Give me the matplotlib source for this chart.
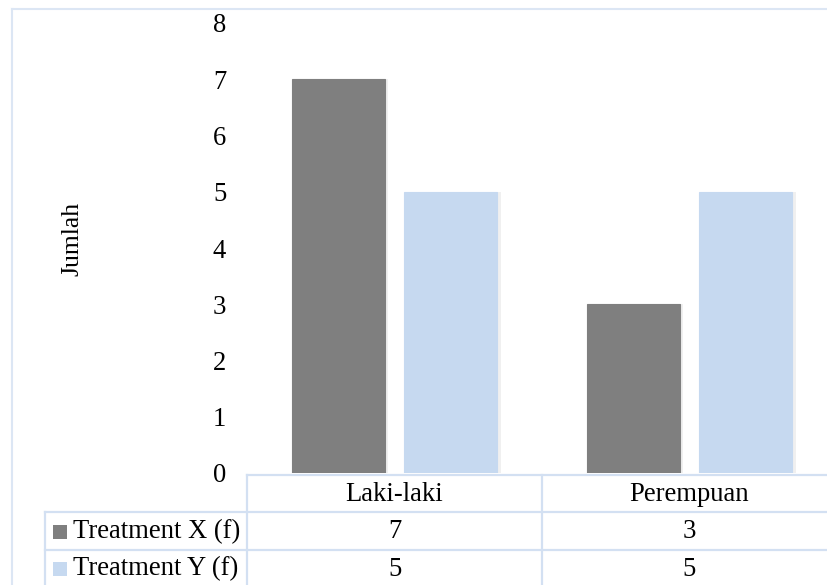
import matplotlib
matplotlib.use("Agg")
import matplotlib.pyplot as plt
from matplotlib.transforms import Affine2D, blended_transform_factory
from matplotlib.patches import Rectangle
from matplotlib.lines import Line2D

categories = ["Laki-laki", "Perempuan"]
series_names = ["Treatment X (f)", "Treatment Y (f)"]
treatment_x = [7, 3]
treatment_y = [5, 5]
y_ticks = [0, 1, 2, 3, 4, 5, 6, 7, 8]
y_label = "Jumlah"

colors = ["#7F7F7F", "#C6D9F0"]
line_c = "#D3E0F2"
border_c = "#DCE6F4"

W, H = 827, 585
plt.rcParams["font.family"] = ["Liberation Serif", "DejaVu Serif"]
FS = 19.2

fig = plt.figure(figsize=(W / 100, H / 100), dpi=100)
px = Affine2D().scale(1 / W, -1 / H).translate(0, 1) + fig.transFigure

# outer chart border
fig.add_artist(Line2D([12, 12], [9, 600], transform=px, color=border_c, lw=1.5))
fig.add_artist(Line2D([12, 840], [9, 9], transform=px, color=border_c, lw=1.5))

x0, x1 = 247, 837
y0, y1 = 473, 23
ax = fig.add_axes([x0 / W, (H - y0) / H, (x1 - x0) / W, (y0 - y1) / H])
ax.set_xlim(-0.5, len(categories) - 0.5)
ax.set_ylim(y_ticks[0], y_ticks[-1])

xs = list(range(len(categories)))
bw = 0.315
off = 0.19
for vals, c, sgn in [(treatment_x, colors[0], -1), (treatment_y, colors[1], 1)]:
    # soft shadow
    ax.bar([x + sgn * off + 0.012 for x in xs], vals, width=bw, color="#000000",
           alpha=0.06, zorder=1)
    ax.bar([x + sgn * off for x in xs], vals, width=bw, color=c, zorder=2,
           edgecolor=c, linewidth=0.8)

ax.set_yticks(y_ticks)
ax.set_yticklabels([str(t) for t in y_ticks], fontsize=FS)
ax.set_xticks([])
ax.tick_params(axis="y", length=0, pad=15)
for s in ax.spines.values():
    s.set_visible(False)
fig.text(72 / W, 1 - 239 / H, y_label, rotation=90, fontsize=FS * 0.96,
         ha="center", va="center")

# data table below the plot
bt = blended_transform_factory(ax.transData, px)
col_edges = [-0.5 + i for i in range(len(categories) + 1)]
row_top, row1, row2, row3 = 475, 512, 550, 588
fig.add_artist(Line2D([x0, 845], [row_top, row_top], transform=px, color=line_c, lw=1.6))
fig.add_artist(Line2D([45, 845], [row1, row1], transform=px, color=line_c, lw=1.6))
fig.add_artist(Line2D([45, 845], [row2, row2], transform=px, color=line_c, lw=1.6))
fig.add_artist(Line2D([45, 45], [row1, 600], transform=px, color=line_c, lw=1.6))
for ce in col_edges:
    fig.add_artist(Line2D([ce, ce], [row_top, 600], transform=bt, color=line_c, lw=1.6))

for x, cat in zip(xs, categories):
    fig.text(x, (row_top + row1) / 2 + 1, cat, transform=bt, fontsize=FS,
             ha="center", va="center")

rows_y = [(row1 + row2) / 2 + 1, (row2 + row3) / 2]
for name, vals, c, ry in zip(series_names, [treatment_x, treatment_y], colors, rows_y):
    fig.add_artist(Rectangle((53, ry - 7), 14, 14, transform=px,
                             facecolor=c, edgecolor="none"))
    fig.text(73 / W, 1 - ry / H, name, fontsize=FS, ha="left", va="center")
    for x, v in zip(xs, vals):
        fig.text(x, ry, str(v), transform=bt, fontsize=FS, ha="center", va="center")

fig.savefig("out.png", dpi=100)
